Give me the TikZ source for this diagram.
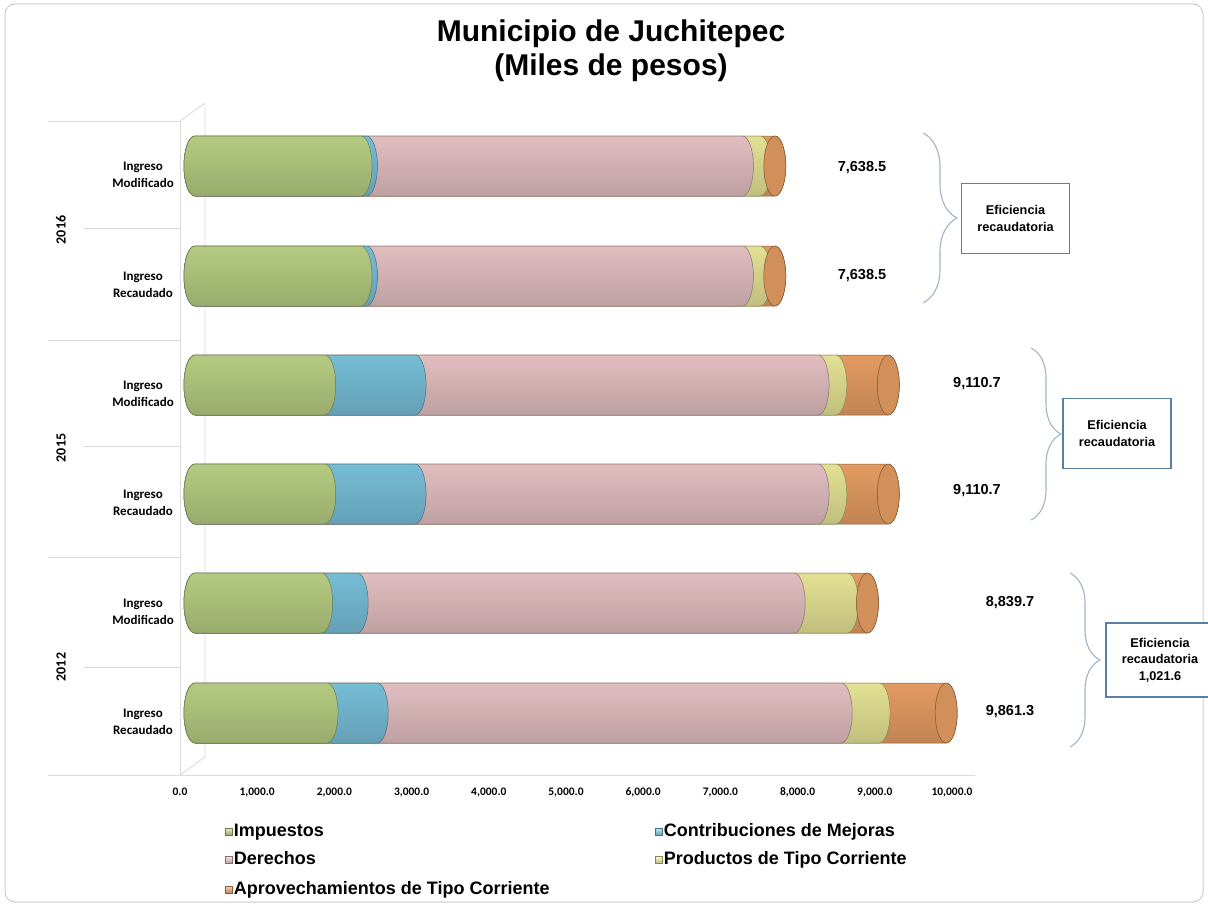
\documentclass[tikz,border=0pt]{standalone}
\usepackage{fontspec}
\setmainfont{Liberation Sans}
\newfontfamily\carlito{Carlito}
\usepackage{tikz}
\usetikzlibrary{positioning,decorations.pathreplacing}

\definecolor{imp}{RGB}{196,220,140}
\definecolor{contrib}{RGB}{128,205,232}
\definecolor{der}{RGB}{244,205,208}
\definecolor{prod}{RGB}{246,244,160}
\definecolor{aprov}{RGB}{246,168,105}
\definecolor{cbox}{RGB}{88,128,165}
\definecolor{cbrace}{RGB}{160,180,200}

\begin{document}
\begin{tikzpicture}[x=1pt,y=-1pt,
    rejilla/.style={draw=black!14, line width=0.9pt},
    barra/.style={draw=#1!55!black, line width=0.5pt, top color=#1!92!black, middle color=#1!32!white, bottom color=#1!78!black},
    cara/.style={draw=#1!50!black, line width=0.5pt, fill=#1!85!black},
    marca/.style={draw=#1!55!black, line width=0.3pt, top color=#1!55!white, bottom color=#1!75!black, minimum size=7pt, inner sep=0pt},
    leyenda/.style={inner sep=1pt, text height=13pt, text depth=4pt, font=\bfseries\fontsize{18}{20}\selectfont},
    categoria/.style={align=center, font=\carlito\bfseries\fontsize{13}{17}\selectfont},
    anio/.style={rotate=90, font=\carlito\bfseries\fontsize{14}{16}\selectfont},
    eje/.style={text height=8pt, text depth=2pt, font=\carlito\bfseries\fontsize{11.5}{13}\selectfont},
    valor/.style={font=\bfseries\fontsize{14.5}{17}\selectfont},
    llave/.style={draw=cbrace, line width=1.1pt, decorate, decoration={brace, amplitude=#1}},
    cuadro/.style={draw=cbox, line width=1.3pt, fill=white, align=center, minimum width=108pt, minimum height=70pt, font=\bfseries\fontsize{12.7}{16.5}\selectfont}
]
\useasboundingbox (0,0) rectangle (1208,907);

\draw[draw=black!20, line width=1pt, rounded corners=10pt] (5,4) rectangle (1203,902);

\node[font=\bfseries\fontsize{30}{35}\selectfont, anchor=base] (tit1) at (611,42) {Municipio de Juchitepec};
\node[font=\bfseries\fontsize{30}{35}\selectfont, anchor=base] (tit2) at (611,76) {(Miles de pesos)};

% pared y ejes
\foreach \y in {121,340,557,775}
    \draw[rejilla] (48,\y) -- (180,\y);
\foreach \y in {228,446,667}
    \draw[rejilla] (83,\y) -- (180,\y);
\draw[rejilla] (180,121) -- (180,775) -- (975,775);
\draw[rejilla] (180,121) -- (205,103) -- (205,757) -- (180,775);

\foreach \i/\t in {0/0.0,1/{1,000.0},2/{2,000.0},3/{3,000.0},4/{4,000.0},5/{5,000.0},
        6/{6,000.0},7/{7,000.0},8/{8,000.0},9/{9,000.0},10/{10,000.0}}
    \node[eje] (t\i) at (180+77.2*\i,792) {\t};

% barras
\foreach \yy/\va/\vb/\vc/\vd/\ve in {166/2.28/2.35/7.22/7.45/7.64, 276/2.28/2.35/7.22/7.45/7.64,
        385/1.81/2.98/8.20/8.43/9.11, 494/1.81/2.98/8.20/8.43/9.11,
        603/1.77/2.23/7.89/8.58/8.84, 713/1.84/2.49/8.50/8.99/9.86}{
    \foreach \v/\c in {\ve/aprov,\vd/prod,\vc/der,\vb/contrib,\va/imp}{
        \pgfmathsetmacro\xe{185+77.2*\v}
        \draw[barra=\c] (195,\yy-30) -- (\xe,\yy-30)
            arc[start angle=90, end angle=-90, x radius=11pt, y radius=30pt]
            -- (195,\yy+30)
            arc[start angle=270, end angle=90, x radius=11pt, y radius=30pt] -- cycle;
    }
    \pgfmathsetmacro\xf{185+77.2*\ve}
    \draw[cara=aprov] (\xf,\yy) ellipse[x radius=11pt, y radius=30pt];
}

\foreach \yy/\t in {166/Modificado,276/Recaudado,385/Modificado,494/Recaudado,603/Modificado,713/Recaudado}
    \node[categoria] (c\yy) at (143,\yy+9) {Ingreso\\\t};

\node[anio] (a2016) at (61,230) {2016};
\node[anio] (a2015) at (61,448) {2015};
\node[anio] (a2012) at (61,667) {2012};

\node[valor] (v1) at (862,168) {7,638.5};
\node[valor] (v2) at (862,276) {7,638.5};
\node[valor] (v3) at (977,384) {9,110.7};
\node[valor] (v4) at (977,491) {9,110.7};
\node[valor] (v5) at (1010,603) {8,839.7};
\node[valor] (v6) at (1010,712) {9,861.3};

% llaves y recuadros
\coordinate (l16a) at (923,133);
\coordinate (l16b) at (923,303);
\coordinate (l15a) at (1031,348);
\coordinate (l15b) at (1031,520);
\coordinate (l12a) at (1070,573);
\coordinate (l12b) at (1070,747);
\draw[llave=34pt] (l16a) -- (l16b);
\draw[llave=30pt] (l15a) -- (l15b);
\draw[llave=30pt] (l12a) -- (l12b);

\node[cuadro] (e2016) at (1015.5,218.5) {Eficiencia\\recaudatoria};
\node[cuadro] (e2015) at (1117,433.5) {Eficiencia\\recaudatoria};
\node[cuadro, minimum height=74pt] (e2012) at (1160,660) {Eficiencia\\recaudatoria\\1,021.6};

% leyenda
\node[marca=imp] (mImp) at (229,832) {};
\node[leyenda, right=0pt of mImp] (tImp) {Impuestos};
\node[marca=der] (mDer) at (229,860) {};
\node[leyenda, right=0pt of mDer] (tDer) {Derechos};
\node[marca=aprov] (mAprov) at (229,890) {};
\node[leyenda, right=0pt of mAprov] (tAprov) {Aprovechamientos de Tipo Corriente};
\node[marca=contrib] (mContrib) at (659,832) {};
\node[leyenda, right=0pt of mContrib] (tContrib) {Contribuciones de Mejoras};
\node[marca=prod] (mProd) at (659,860) {};
\node[leyenda, right=0pt of mProd] (tProd) {Productos de Tipo Corriente};

\end{tikzpicture}
\end{document}
